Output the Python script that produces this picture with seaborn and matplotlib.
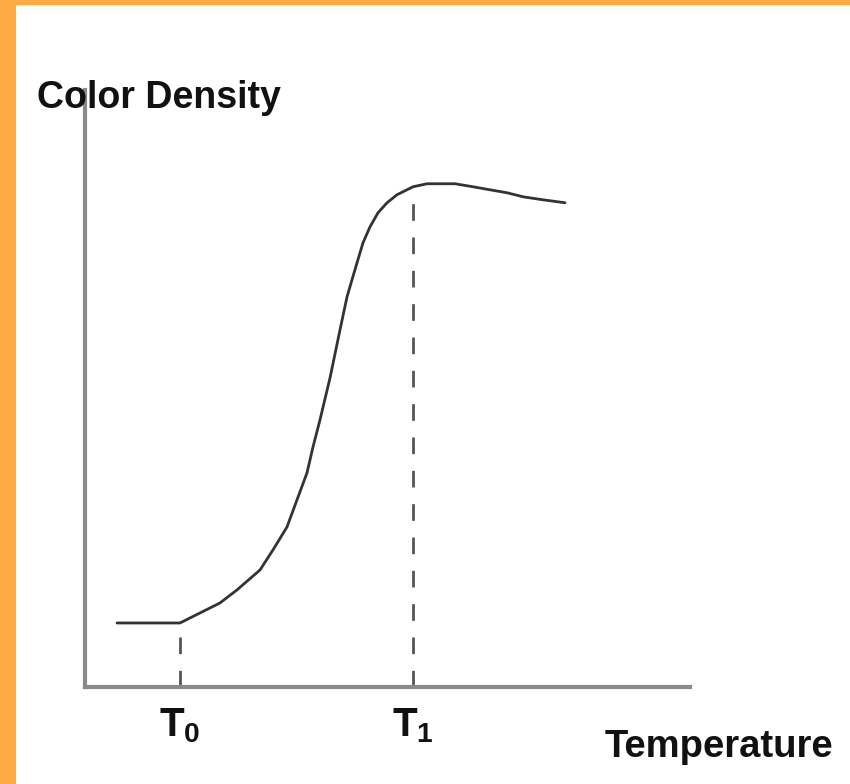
import matplotlib
matplotlib.use("Agg")
import matplotlib.pyplot as plt
from matplotlib.patches import Rectangle
import pandas as pd
import seaborn as sns

# curve (arbitrary units, axis runs 0..100 both ways)
temperature = [5.29, 15.70, 17.36, 22.31, 25.12, 28.93, 31.07, 33.39, 35.04,
               36.69, 37.69, 38.84, 40.50, 42.15, 43.31,
               44.13, 44.96, 45.95, 47.11, 48.43, 49.92, 51.57, 54.21, 56.53,
               61.16, 64.13, 66.94, 69.75, 72.40, 75.70, 79.34]
color_density = [10.81, 10.81, 11.66, 14.19, 16.39, 19.76, 23.14, 27.03, 31.59,
                 36.15, 40.54, 45.10, 52.20, 60.30, 65.88,
                 68.75, 71.62, 75.00, 77.70, 80.07, 81.76, 83.11, 84.46, 84.97,
                 84.97, 84.46, 83.95, 83.45, 82.77, 82.26, 81.76]

marks = [15.70, 54.21]
mark_levels = [10.81, 84.46]
mark_labels = ["T$_0$", "T$_1$"]

sns.set_style("white")
plt.rcParams["font.family"] = ["Liberation Sans Narrow", "Liberation Sans", "DejaVu Sans"]
plt.rcParams["mathtext.fontset"] = "custom"
plt.rcParams["mathtext.rm"] = "Liberation Sans:bold"
plt.rcParams["mathtext.it"] = "Liberation Sans:bold"
plt.rcParams["mathtext.bf"] = "Liberation Sans:bold"

df = pd.DataFrame({"Temperature": temperature, "Color Density": color_density})

fig = plt.figure(figsize=(8.5, 7.84), dpi=100, facecolor="white")
orange = "#ffaa44"
fig.patches.append(Rectangle((0, 0), 16 / 850, 1, transform=fig.transFigure,
                             facecolor=orange, edgecolor="none", zorder=0))
fig.patches.append(Rectangle((0, 1 - 5 / 784), 1, 5 / 784, transform=fig.transFigure,
                             facecolor=orange, edgecolor="none", zorder=0))

ax = fig.add_axes([85 / 850, 97 / 784, 605 / 850, 597 / 784])
ax.set_facecolor("none")

sns.lineplot(data=df, x="Temperature", y="Color Density", ax=ax,
             color="#333333", linewidth=2, sort=False)
ax.vlines(marks, 0, mark_levels, colors="#555555", linewidth=2,
          linestyles=(0, (6, 6)))

ax.set_xlim(0, 100)
ax.set_ylim(0, 100.8)
ax.set_xlabel("")
ax.set_ylabel("")
ax.set_yticks([])
ax.set_xticks(marks, labels=mark_labels)
ax.tick_params(axis="x", length=0, pad=14, labelsize=29)
plt.setp(ax.get_xticklabels(), fontweight="bold", color="#111111")

for side in ["top", "right"]:
    ax.spines[side].set_visible(False)
for side in ["left", "bottom"]:
    ax.spines[side].set_color("#8a8a8a")
    ax.spines[side].set_linewidth(3)

fig.text(37 / 850, 1 - 108 / 784, "Color Density", fontsize=27,
         fontweight="bold", va="baseline", ha="left", color="#111111")
fig.text(605 / 850, 1 - 757 / 784, "Temperature", fontsize=27.5,
         fontweight="bold", va="baseline", ha="left", color="#111111")

fig.savefig("out.png", dpi=100, facecolor=fig.get_facecolor())
